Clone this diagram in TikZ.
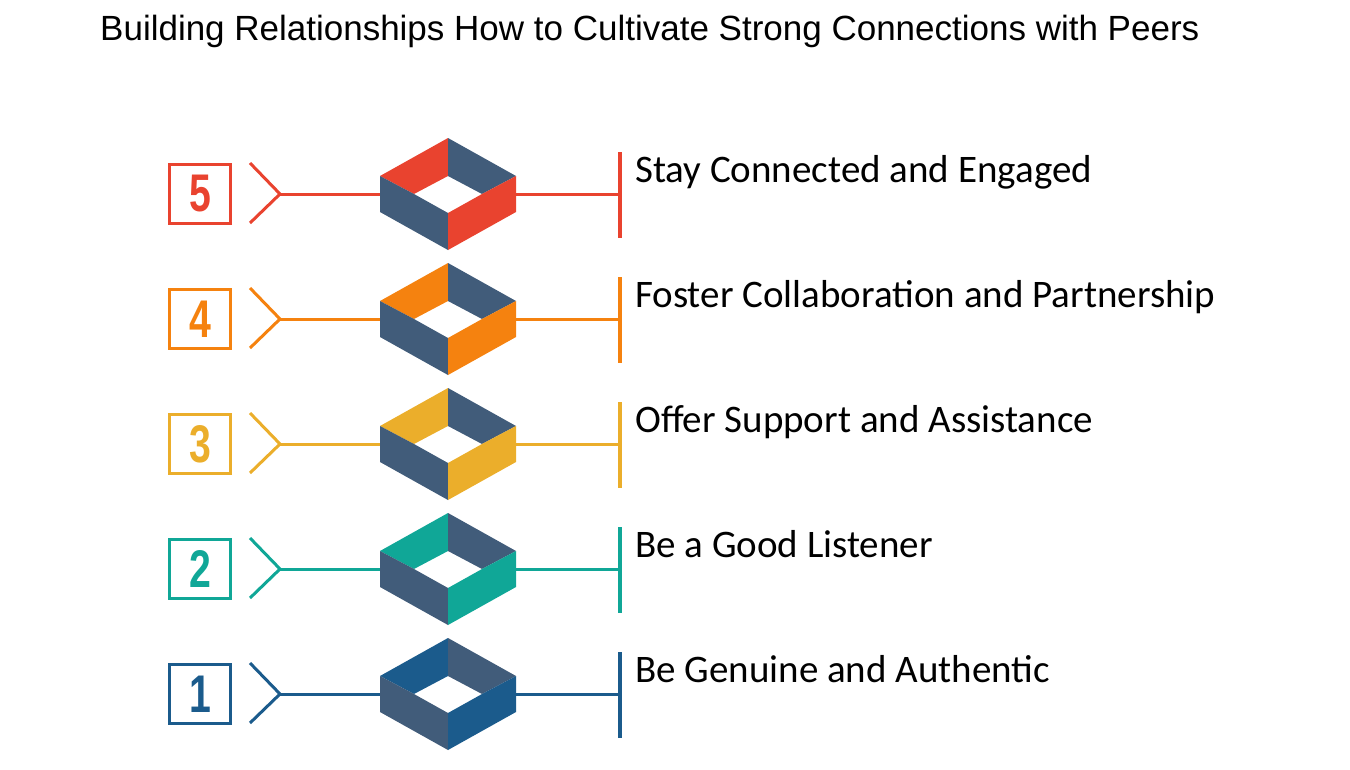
\documentclass[tikz,border=0pt]{standalone}
\usepackage{fontspec}
\setmainfont{Carlito}
\newfontfamily\titlefont{Liberation Sans}
\newfontfamily\digitfont{Liberation Sans}
\definecolor{wallblue}{HTML}{415C7A}
\definecolor{cfive}{HTML}{E9432F}
\definecolor{cfour}{HTML}{F5820F}
\definecolor{cthree}{HTML}{EBAE2B}
\definecolor{ctwo}{HTML}{10A797}
\definecolor{cone}{HTML}{1B5B8C}

\begin{document}
\begin{tikzpicture}[x=1pt,y=-1pt]
    \useasboundingbox (0,0) rectangle (1350,769);
    \node[font=\titlefont\fontsize{35}{42}\selectfont, anchor=base west, inner sep=0] (title) at (100,40) {Building Relationships How to Cultivate Strong Connections with Peers};
    \foreach \n/\col/\txt in {5/cfive/Stay Connected and Engaged, 4/cfour/Foster Collaboration and Partnership, 3/cthree/Offer Support and Assistance, 2/ctwo/Be a Good Listener, 1/cone/Be Genuine and Authentic}{
        \pgfmathsetmacro{\c}{194+125*(5-\n)}
        % number box and chevron
        \node[draw=\col, line width=3.5pt, minimum width=61pt, minimum height=59pt, inner sep=0, text=\col] (num\n) at (200,\c) {\digitfont\bfseries\fontsize{53}{53}\selectfont\scalebox{0.74}[1]{\n}};
        \coordinate (tip\n) at (280,\c);
        \draw[\col, line width=3pt] (250,\c-31) -- (tip\n) -- (250,\c+29);
        % diamond
        \coordinate (boxl\n) at (380,\c);
        \coordinate (boxr\n) at (516,\c);
        \coordinate (bar\n) at (620,\c);
        \draw[\col, line width=3pt] (tip\n) -- (boxl\n);
        \draw[\col, line width=3pt] (boxr\n) -- (bar\n);
        \fill[\col] (380,\c-18) -- (448,\c-56) -- (448,\c-18) -- (414,\c) -- cycle;
        \fill[wallblue] (448,\c-56) -- (516,\c-18) -- (482,\c) -- (448,\c-18) -- cycle;
        \fill[wallblue] (380,\c-18) -- (414,\c) -- (448,\c+19) -- (448,\c+56) -- (380,\c+18) -- cycle;
        \fill[\col] (448,\c+19) -- (482,\c) -- (516,\c-18) -- (516,\c+18) -- (448,\c+56) -- cycle;
        % bar and text
        \draw[\col, line width=3.5pt] (620,\c-42) -- (620,\c+44);
        \node[anchor=base west, inner sep=0, font=\fontsize{39}{47}\selectfont] (lbl\n) at (635,\c-12) {\txt};
    }
\end{tikzpicture}
\end{document}
